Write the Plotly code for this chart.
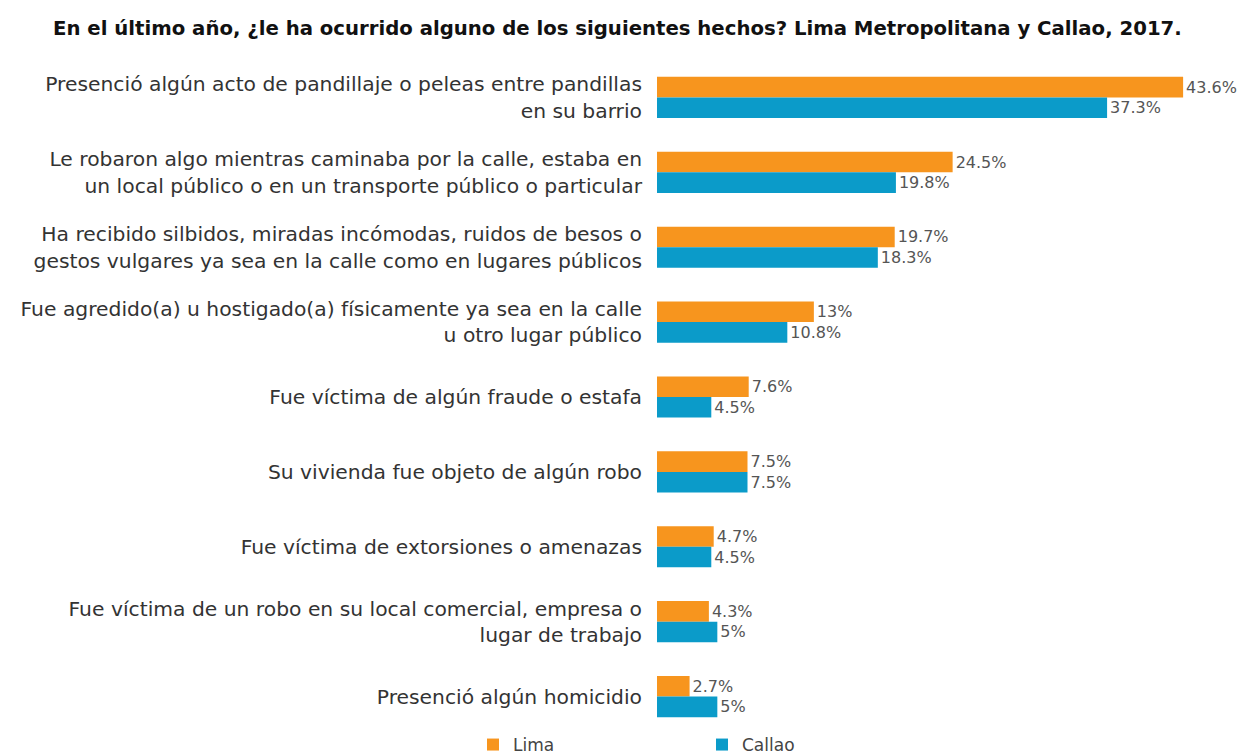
import plotly.graph_objects as go

title = "En el último año, ¿le ha ocurrido alguno de los siguientes hechos? Lima Metropolitana y Callao, 2017."

categories = [
    "Presenció algún acto de pandillaje o peleas entre pandillas<br>en su barrio",
    "Le robaron algo mientras caminaba por la calle, estaba en<br>un local público o en un transporte público o particular",
    "Ha recibido silbidos, miradas incómodas, ruidos de besos o<br>gestos vulgares ya sea en la calle como en lugares públicos",
    "Fue agredido(a) u hostigado(a) físicamente ya sea en la calle<br>u otro lugar público",
    "Fue víctima de algún fraude o estafa",
    "Su vivienda fue objeto de algún robo",
    "Fue víctima de extorsiones o amenazas",
    "Fue víctima de un robo en su local comercial, empresa o<br>lugar de trabajo",
    "Presenció algún homicidio",
]
lima = [43.6, 24.5, 19.7, 13, 7.6, 7.5, 4.7, 4.3, 2.7]
callao = [37.3, 19.8, 18.3, 10.8, 4.5, 7.5, 4.5, 5, 5]

ORANGE = "#F7951E"
TEAL = "#0B9BC9"
FONT = "DejaVu Sans"

fig = go.Figure()
fig.add_trace(go.Bar(
    name="Lima", y=categories, x=lima, orientation="h",
    marker=dict(color=ORANGE, line=dict(width=0)),
    text=[f"{v:g}%" for v in lima], textposition="outside",
    textfont=dict(family=FONT, size=16, color="#555555"),
    cliponaxis=False,
))
fig.add_trace(go.Bar(
    name="Callao", y=categories, x=callao, orientation="h",
    marker=dict(color=TEAL, line=dict(width=0)),
    text=[f"{v:g}%" for v in callao], textposition="outside",
    textfont=dict(family=FONT, size=16, color="#555555"),
    cliponaxis=False,
))

fig.update_layout(
    width=1248, height=755,
    paper_bgcolor="white", plot_bgcolor="white",
    margin=dict(l=657, r=48, t=60, b=21, autoexpand=False),
    barmode="group", bargap=0.45, bargroupgap=0,
    title=dict(
        text="<b>" + title + "</b>",
        x=53/1248, xanchor="left", xref="container",
        y=1 - 28/755, yanchor="middle", yref="container",
        font=dict(family=FONT, size=19.7, color="#111111"),
    ),
    xaxis=dict(range=[0, 45], visible=False, fixedrange=True),
    yaxis=dict(
        autorange="reversed", showgrid=False, showline=False, zeroline=False,
        ticks="", ticklabelstandoff=14, automargin=False, fixedrange=True,
        tickfont=dict(family=FONT, size=20.3, color="#333333"),
    ),
    legend=dict(
        orientation="h", x=473/1248, xanchor="left", xref="container",
        y=1 - 745/755, yanchor="middle", yref="container",
        entrywidth=184, entrywidthmode="pixels",
        font=dict(family=FONT, size=17, color="#444444"),
        traceorder="normal",
    ),
    showlegend=True,
)

fig.write_html("out.html", config={"displayModeBar": False},
               post_script="document.body.style.margin='0';")
